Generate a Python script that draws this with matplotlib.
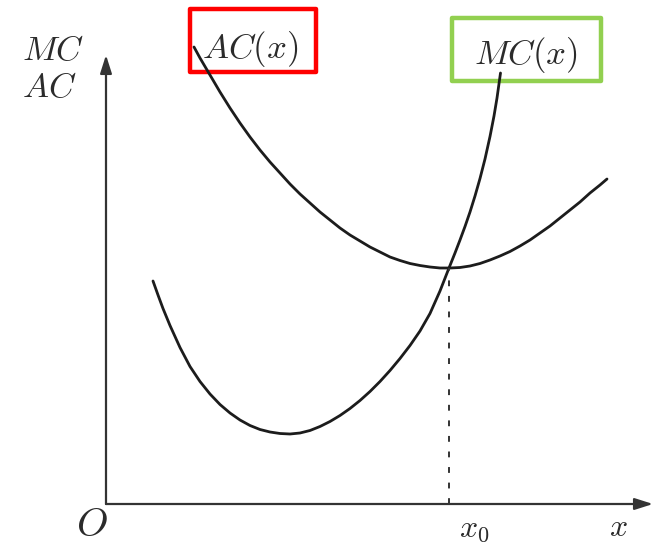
import matplotlib
matplotlib.use("Agg")
import matplotlib.pyplot as plt
from matplotlib.patches import Rectangle

plt.rcParams["mathtext.fontset"] = "cm"

# Average cost curve: quantity, cost
ac_q = [88, 94, 104, 114, 124, 134, 144, 154, 164, 174, 184, 194, 204, 214, 224,
        234, 244, 254, 264, 274, 284, 294, 304, 314, 324, 334, 344, 354, 364, 374,
        384, 394, 404, 414, 424, 434, 444, 454, 464, 474, 484, 494, 501]
ac_c = [457, 446, 429, 412, 396, 381, 367, 354, 342, 331, 320, 310, 301, 292, 284,
        276, 269, 263, 257, 252, 247, 243.5, 240.5, 238.5, 237, 236, 236, 236.5, 238,
        240.5, 244, 248, 252.5, 258, 264, 271, 278, 286, 294, 302, 311, 319, 325]

# Marginal cost curve: quantity, cost
mc_q = [47, 52, 57, 64, 74, 84, 94, 104, 114, 124, 134, 144, 154, 164, 174, 184,
        194, 204, 214, 224, 234, 244, 254, 264, 274, 284, 294, 304, 314, 324, 334,
        343, 349, 354, 359, 364, 369, 374, 379, 384, 388, 391, 394.5]
mc_c = [223, 209, 195.5, 178.5, 156.5, 137.5, 122.5, 110, 99.5, 91, 84, 78.5, 74.5,
        72, 70.5, 70, 71, 73.5, 77.5, 82.5, 88.5, 95.5, 103.5, 112.5, 122.5, 133.5,
        145.5, 158.5, 173, 190.5, 213, 236, 251, 264, 277.5, 292, 308, 325.5, 345,
        367.5, 388, 406, 431]

# Point where MC crosses the minimum of AC
x0 = 343
c0 = 236

# Axis extents
x_end = 547
y_end = 449

ink = "#1c1c1c"
txt = "#2b2b2b"

fig = plt.figure(figsize=(6.6, 5.46), dpi=100)
ax = fig.add_axes([0, 0, 1, 1])
ax.set_xlim(-106, 554)
ax.set_ylim(-42, 504)
ax.set_axis_off()

# Axes with arrow heads
arrow = dict(arrowstyle="-|>,head_length=1.1,head_width=0.35", color="#333333",
             lw=1.6, shrinkA=0, shrinkB=0)
ax.annotate("", xy=(0, y_end), xytext=(0, 0), arrowprops=arrow)
ax.annotate("", xy=(x_end, 0), xytext=(0, 0), arrowprops=arrow)

# Cost curves
ax.plot(ac_q, ac_c, color=ink, lw=2.0, solid_capstyle="round", solid_joinstyle="round")
ax.plot(mc_q, mc_c, color=ink, lw=2.0, solid_capstyle="round", solid_joinstyle="round")

# Drop line from the intersection to the quantity axis
ax.plot([x0, x0], [0, c0], color="#333333", lw=1.4, linestyle=(0, (3, 5)))

# Labels
ax.text(-84, 454, r"$MC$", fontsize=25, color=txt, ha="left", va="center")
ax.text(-84, 417, r"$AC$", fontsize=25, color=txt, ha="left", va="center")
ax.text(-14, -21, r"$O$", fontsize=29, color=txt, ha="center", va="center")
ax.text(368, -24, r"$x_0$", fontsize=23, color=txt, ha="center", va="center")
ax.text(512, -24, r"$x$", fontsize=23, color=txt, ha="center", va="center")

ax.text(144, 455, r"$AC(x)$", fontsize=25, color=txt, ha="center", va="center")
ax.text(420, 449, r"$MC(x)$", fontsize=25, color=txt, ha="center", va="center")

# Highlight boxes around the curve names
ax.add_patch(Rectangle((84, 432), 126, 63, fill=False, edgecolor="#ff0000",
                       lw=3.2, joinstyle="round"))
ax.add_patch(Rectangle((346, 423), 149, 63, fill=False, edgecolor="#92d050",
                       lw=3.2, joinstyle="round"))

fig.savefig("out.png", dpi=100, facecolor="white")
